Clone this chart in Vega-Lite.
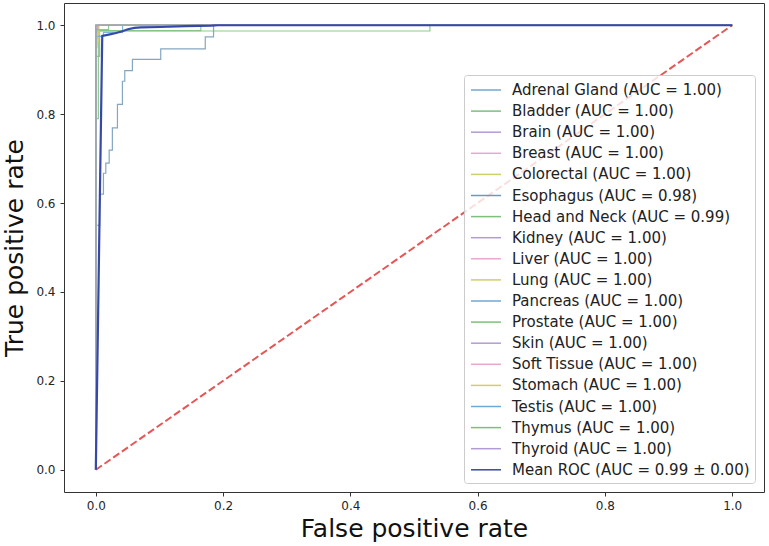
{
  "$schema": "https://vega.github.io/schema/vega-lite/v6.json",
  "width": 700,
  "height": 489,
  "autosize": {"type": "none"},
  "padding": {"left": 64, "top": 3, "right": 5, "bottom": 54},
  "background": "white",
  "config": {
    "view": {"stroke": "#333333", "strokeWidth": 1},
    "axis": {
      "domain": false,
      "grid": false,
      "tickColor": "#333333",
      "tickSize": 4,
      "labelFont": "DejaVu Sans",
      "labelFontSize": 12,
      "labelColor": "#262626",
      "titleFont": "DejaVu Sans",
      "titleFontSize": 25,
      "titleFontWeight": "normal",
      "titleColor": "#111111"
    },
    "legend": {
      "orient": "none",
      "legendX": 400,
      "legendY": 72,
      "padding": 5,
      "fillColor": "rgba(255,255,255,0.8)",
      "strokeColor": "#cccccc",
      "cornerRadius": 3,
      "labelFont": "DejaVu Sans",
      "labelFontSize": 15,
      "labelColor": "#222222",
      "labelLimit": 400,
      "labelOffset": 23,
      "symbolType": "M-0.889,0H2.444",
      "symbolSize": 324,
      "symbolStrokeWidth": 1.5,
      "symbolOpacity": 1,
      "rowPadding": 3.1,
      "title": null
    }
  },
  "data": {
    "values": [
      {"s": "Adrenal Gland (AUC = 1.00)", "i": 0, "x": 0, "y": 0},
      {"s": "Adrenal Gland (AUC = 1.00)", "i": 1, "x": 0, "y": 1},
      {"s": "Adrenal Gland (AUC = 1.00)", "i": 2, "x": 1, "y": 1},
      {"s": "Bladder (AUC = 1.00)", "i": 0, "x": 0, "y": 0},
      {"s": "Bladder (AUC = 1.00)", "i": 1, "x": 0, "y": 0.79},
      {"s": "Bladder (AUC = 1.00)", "i": 2, "x": 0.004, "y": 0.79},
      {"s": "Bladder (AUC = 1.00)", "i": 3, "x": 0.004, "y": 0.988},
      {"s": "Bladder (AUC = 1.00)", "i": 4, "x": 0.165, "y": 0.988},
      {"s": "Bladder (AUC = 1.00)", "i": 5, "x": 0.165, "y": 1},
      {"s": "Bladder (AUC = 1.00)", "i": 6, "x": 1, "y": 1},
      {"s": "Brain (AUC = 1.00)", "i": 0, "x": 0, "y": 0},
      {"s": "Brain (AUC = 1.00)", "i": 1, "x": 0, "y": 1},
      {"s": "Brain (AUC = 1.00)", "i": 2, "x": 1, "y": 1},
      {"s": "Breast (AUC = 1.00)", "i": 0, "x": 0, "y": 0},
      {"s": "Breast (AUC = 1.00)", "i": 1, "x": 0, "y": 0.98},
      {"s": "Breast (AUC = 1.00)", "i": 2, "x": 0.002, "y": 0.98},
      {"s": "Breast (AUC = 1.00)", "i": 3, "x": 0.002, "y": 1},
      {"s": "Breast (AUC = 1.00)", "i": 4, "x": 1, "y": 1},
      {"s": "Colorectal (AUC = 1.00)", "i": 0, "x": 0, "y": 0},
      {"s": "Colorectal (AUC = 1.00)", "i": 1, "x": 0, "y": 0.97},
      {"s": "Colorectal (AUC = 1.00)", "i": 2, "x": 0.003, "y": 0.97},
      {"s": "Colorectal (AUC = 1.00)", "i": 3, "x": 0.003, "y": 1},
      {"s": "Colorectal (AUC = 1.00)", "i": 4, "x": 1, "y": 1},
      {"s": "Esophagus (AUC = 0.98)", "i": 0, "x": 0, "y": 0},
      {"s": "Esophagus (AUC = 0.98)", "i": 1, "x": 0, "y": 0.55},
      {"s": "Esophagus (AUC = 0.98)", "i": 2, "x": 0.006, "y": 0.55},
      {"s": "Esophagus (AUC = 0.98)", "i": 3, "x": 0.006, "y": 0.62},
      {"s": "Esophagus (AUC = 0.98)", "i": 4, "x": 0.012, "y": 0.62},
      {"s": "Esophagus (AUC = 0.98)", "i": 5, "x": 0.012, "y": 0.667},
      {"s": "Esophagus (AUC = 0.98)", "i": 6, "x": 0.0157, "y": 0.667},
      {"s": "Esophagus (AUC = 0.98)", "i": 7, "x": 0.0157, "y": 0.69},
      {"s": "Esophagus (AUC = 0.98)", "i": 8, "x": 0.021, "y": 0.69},
      {"s": "Esophagus (AUC = 0.98)", "i": 9, "x": 0.021, "y": 0.719},
      {"s": "Esophagus (AUC = 0.98)", "i": 10, "x": 0.026, "y": 0.719},
      {"s": "Esophagus (AUC = 0.98)", "i": 11, "x": 0.026, "y": 0.769},
      {"s": "Esophagus (AUC = 0.98)", "i": 12, "x": 0.034, "y": 0.769},
      {"s": "Esophagus (AUC = 0.98)", "i": 13, "x": 0.034, "y": 0.822},
      {"s": "Esophagus (AUC = 0.98)", "i": 14, "x": 0.0418, "y": 0.822},
      {"s": "Esophagus (AUC = 0.98)", "i": 15, "x": 0.0418, "y": 0.874},
      {"s": "Esophagus (AUC = 0.98)", "i": 16, "x": 0.0455, "y": 0.874},
      {"s": "Esophagus (AUC = 0.98)", "i": 17, "x": 0.0455, "y": 0.898},
      {"s": "Esophagus (AUC = 0.98)", "i": 18, "x": 0.0575, "y": 0.898},
      {"s": "Esophagus (AUC = 0.98)", "i": 19, "x": 0.0575, "y": 0.923},
      {"s": "Esophagus (AUC = 0.98)", "i": 20, "x": 0.102, "y": 0.923},
      {"s": "Esophagus (AUC = 0.98)", "i": 21, "x": 0.102, "y": 0.947},
      {"s": "Esophagus (AUC = 0.98)", "i": 22, "x": 0.172, "y": 0.947},
      {"s": "Esophagus (AUC = 0.98)", "i": 23, "x": 0.172, "y": 0.974},
      {"s": "Esophagus (AUC = 0.98)", "i": 24, "x": 0.185, "y": 0.974},
      {"s": "Esophagus (AUC = 0.98)", "i": 25, "x": 0.185, "y": 1},
      {"s": "Esophagus (AUC = 0.98)", "i": 26, "x": 1, "y": 1},
      {"s": "Head and Neck (AUC = 0.99)", "i": 0, "x": 0, "y": 0},
      {"s": "Head and Neck (AUC = 0.99)", "i": 1, "x": 0, "y": 0.93},
      {"s": "Head and Neck (AUC = 0.99)", "i": 2, "x": 0.006, "y": 0.93},
      {"s": "Head and Neck (AUC = 0.99)", "i": 3, "x": 0.006, "y": 0.987},
      {"s": "Head and Neck (AUC = 0.99)", "i": 4, "x": 0.525, "y": 0.987},
      {"s": "Head and Neck (AUC = 0.99)", "i": 5, "x": 0.525, "y": 1},
      {"s": "Head and Neck (AUC = 0.99)", "i": 6, "x": 1, "y": 1},
      {"s": "Kidney (AUC = 1.00)", "i": 0, "x": 0, "y": 0},
      {"s": "Kidney (AUC = 1.00)", "i": 1, "x": 0, "y": 1},
      {"s": "Kidney (AUC = 1.00)", "i": 2, "x": 1, "y": 1},
      {"s": "Liver (AUC = 1.00)", "i": 0, "x": 0, "y": 0},
      {"s": "Liver (AUC = 1.00)", "i": 1, "x": 0, "y": 0.99},
      {"s": "Liver (AUC = 1.00)", "i": 2, "x": 0.002, "y": 0.99},
      {"s": "Liver (AUC = 1.00)", "i": 3, "x": 0.002, "y": 1},
      {"s": "Liver (AUC = 1.00)", "i": 4, "x": 1, "y": 1},
      {"s": "Lung (AUC = 1.00)", "i": 0, "x": 0, "y": 0},
      {"s": "Lung (AUC = 1.00)", "i": 1, "x": 0, "y": 0.96},
      {"s": "Lung (AUC = 1.00)", "i": 2, "x": 0.004, "y": 0.96},
      {"s": "Lung (AUC = 1.00)", "i": 3, "x": 0.004, "y": 1},
      {"s": "Lung (AUC = 1.00)", "i": 4, "x": 1, "y": 1},
      {"s": "Pancreas (AUC = 1.00)", "i": 0, "x": 0, "y": 0},
      {"s": "Pancreas (AUC = 1.00)", "i": 1, "x": 0, "y": 0.975},
      {"s": "Pancreas (AUC = 1.00)", "i": 2, "x": 0.012, "y": 0.975},
      {"s": "Pancreas (AUC = 1.00)", "i": 3, "x": 0.012, "y": 0.984},
      {"s": "Pancreas (AUC = 1.00)", "i": 4, "x": 0.042, "y": 0.984},
      {"s": "Pancreas (AUC = 1.00)", "i": 5, "x": 0.042, "y": 1},
      {"s": "Pancreas (AUC = 1.00)", "i": 6, "x": 1, "y": 1},
      {"s": "Prostate (AUC = 1.00)", "i": 0, "x": 0, "y": 0},
      {"s": "Prostate (AUC = 1.00)", "i": 1, "x": 0, "y": 1},
      {"s": "Prostate (AUC = 1.00)", "i": 2, "x": 1, "y": 1},
      {"s": "Skin (AUC = 1.00)", "i": 0, "x": 0, "y": 0},
      {"s": "Skin (AUC = 1.00)", "i": 1, "x": 0, "y": 0.99},
      {"s": "Skin (AUC = 1.00)", "i": 2, "x": 0.003, "y": 0.99},
      {"s": "Skin (AUC = 1.00)", "i": 3, "x": 0.003, "y": 1},
      {"s": "Skin (AUC = 1.00)", "i": 4, "x": 1, "y": 1},
      {"s": "Soft Tissue (AUC = 1.00)", "i": 0, "x": 0, "y": 0},
      {"s": "Soft Tissue (AUC = 1.00)", "i": 1, "x": 0, "y": 0.95},
      {"s": "Soft Tissue (AUC = 1.00)", "i": 2, "x": 0.002, "y": 0.95},
      {"s": "Soft Tissue (AUC = 1.00)", "i": 3, "x": 0.002, "y": 1},
      {"s": "Soft Tissue (AUC = 1.00)", "i": 4, "x": 1, "y": 1},
      {"s": "Stomach (AUC = 1.00)", "i": 0, "x": 0, "y": 0},
      {"s": "Stomach (AUC = 1.00)", "i": 1, "x": 0, "y": 0.98},
      {"s": "Stomach (AUC = 1.00)", "i": 2, "x": 0.005, "y": 0.98},
      {"s": "Stomach (AUC = 1.00)", "i": 3, "x": 0.005, "y": 1},
      {"s": "Stomach (AUC = 1.00)", "i": 4, "x": 1, "y": 1},
      {"s": "Testis (AUC = 1.00)", "i": 0, "x": 0, "y": 0},
      {"s": "Testis (AUC = 1.00)", "i": 1, "x": 0, "y": 1},
      {"s": "Testis (AUC = 1.00)", "i": 2, "x": 1, "y": 1},
      {"s": "Thymus (AUC = 1.00)", "i": 0, "x": 0, "y": 0},
      {"s": "Thymus (AUC = 1.00)", "i": 1, "x": 0, "y": 0.99},
      {"s": "Thymus (AUC = 1.00)", "i": 2, "x": 0.02, "y": 0.99},
      {"s": "Thymus (AUC = 1.00)", "i": 3, "x": 0.02, "y": 1},
      {"s": "Thymus (AUC = 1.00)", "i": 4, "x": 1, "y": 1},
      {"s": "Thyroid (AUC = 1.00)", "i": 0, "x": 0, "y": 0},
      {"s": "Thyroid (AUC = 1.00)", "i": 1, "x": 0, "y": 1},
      {"s": "Thyroid (AUC = 1.00)", "i": 2, "x": 1, "y": 1},
      {"s": "Mean ROC (AUC = 0.99 ± 0.00)", "i": 0, "x": 0, "y": 0},
      {"s": "Mean ROC (AUC = 0.99 ± 0.00)", "i": 1, "x": 0.0101, "y": 0.976},
      {"s": "Mean ROC (AUC = 0.99 ± 0.00)", "i": 2, "x": 0.0202, "y": 0.979},
      {"s": "Mean ROC (AUC = 0.99 ± 0.00)", "i": 3, "x": 0.0303, "y": 0.982},
      {"s": "Mean ROC (AUC = 0.99 ± 0.00)", "i": 4, "x": 0.0404, "y": 0.986},
      {"s": "Mean ROC (AUC = 0.99 ± 0.00)", "i": 5, "x": 0.0505, "y": 0.991},
      {"s": "Mean ROC (AUC = 0.99 ± 0.00)", "i": 6, "x": 0.0606, "y": 0.994},
      {"s": "Mean ROC (AUC = 0.99 ± 0.00)", "i": 7, "x": 0.0707, "y": 0.995},
      {"s": "Mean ROC (AUC = 0.99 ± 0.00)", "i": 8, "x": 0.101, "y": 0.996},
      {"s": "Mean ROC (AUC = 0.99 ± 0.00)", "i": 9, "x": 0.1414, "y": 0.998},
      {"s": "Mean ROC (AUC = 0.99 ± 0.00)", "i": 10, "x": 0.1818, "y": 0.999},
      {"s": "Mean ROC (AUC = 0.99 ± 0.00)", "i": 11, "x": 0.1919, "y": 1},
      {"s": "Mean ROC (AUC = 0.99 ± 0.00)", "i": 12, "x": 1, "y": 1}
    ]
  },
  "layer": [
    {
      "transform": [{"filter": "datum.s !== 'Mean ROC (AUC = 0.99 ± 0.00)'"}],
      "mark": {"type": "line", "strokeWidth": 1.2, "opacity": 0.85},
      "encoding": {
        "x": {"field": "x", "type": "quantitative", "scale": {"domain": [-0.05, 1.05], "nice": false, "zero": false}, "axis": {"values": [0, 0.2, 0.4, 0.6, 0.8, 1.0], "format": ".1f", "title": "False positive rate", "labelPadding": 4, "titlePadding": 5}},
        "y": {"field": "y", "type": "quantitative", "scale": {"domain": [-0.05, 1.05], "nice": false, "zero": false}, "axis": {"values": [0, 0.2, 0.4, 0.6, 0.8, 1.0], "format": ".1f", "title": "True positive rate", "labelPadding": 5, "titlePadding": 8}},
        "color": {
          "field": "s",
          "type": "nominal",
          "scale": {
            "domain": ["Adrenal Gland (AUC = 1.00)", "Bladder (AUC = 1.00)", "Brain (AUC = 1.00)", "Breast (AUC = 1.00)", "Colorectal (AUC = 1.00)", "Esophagus (AUC = 0.98)", "Head and Neck (AUC = 0.99)", "Kidney (AUC = 1.00)", "Liver (AUC = 1.00)", "Lung (AUC = 1.00)", "Pancreas (AUC = 1.00)", "Prostate (AUC = 1.00)", "Skin (AUC = 1.00)", "Soft Tissue (AUC = 1.00)", "Stomach (AUC = 1.00)", "Testis (AUC = 1.00)", "Thymus (AUC = 1.00)", "Thyroid (AUC = 1.00)", "Mean ROC (AUC = 0.99 ± 0.00)"],
            "range": ["#6fa8d6", "#7dbf7d", "#b39bd3", "#e9a6cf", "#cfcf6a", "#6f98b8", "#7dbf7d", "#b39bd3", "#e9a6cf", "#cfcf6a", "#6fa8d6", "#7dbf7d", "#b39bd3", "#e9a6cf", "#cfcf6a", "#6fa8d6", "#7dbf7d", "#b39bd3", "#3848a8"]
          },
          "sort": null
        },
        "order": {"field": "i", "type": "quantitative"}
      }
    },
    {
      "data": {"values": [{"x": 0, "y": 0}, {"x": 1, "y": 1}]},
      "mark": {"type": "line", "color": "#e24444", "strokeWidth": 2, "strokeDash": [7.4, 3.2], "opacity": 0.9},
      "encoding": {
        "x": {"field": "x", "type": "quantitative"},
        "y": {"field": "y", "type": "quantitative"}
      }
    },
    {
      "transform": [{"filter": "datum.s === 'Mean ROC (AUC = 0.99 ± 0.00)'"}],
      "mark": {"type": "line", "strokeWidth": 2.2},
      "encoding": {
        "x": {"field": "x", "type": "quantitative"},
        "y": {"field": "y", "type": "quantitative"},
        "color": {"field": "s", "type": "nominal"},
        "order": {"field": "i", "type": "quantitative"}
      }
    }
  ]
}
